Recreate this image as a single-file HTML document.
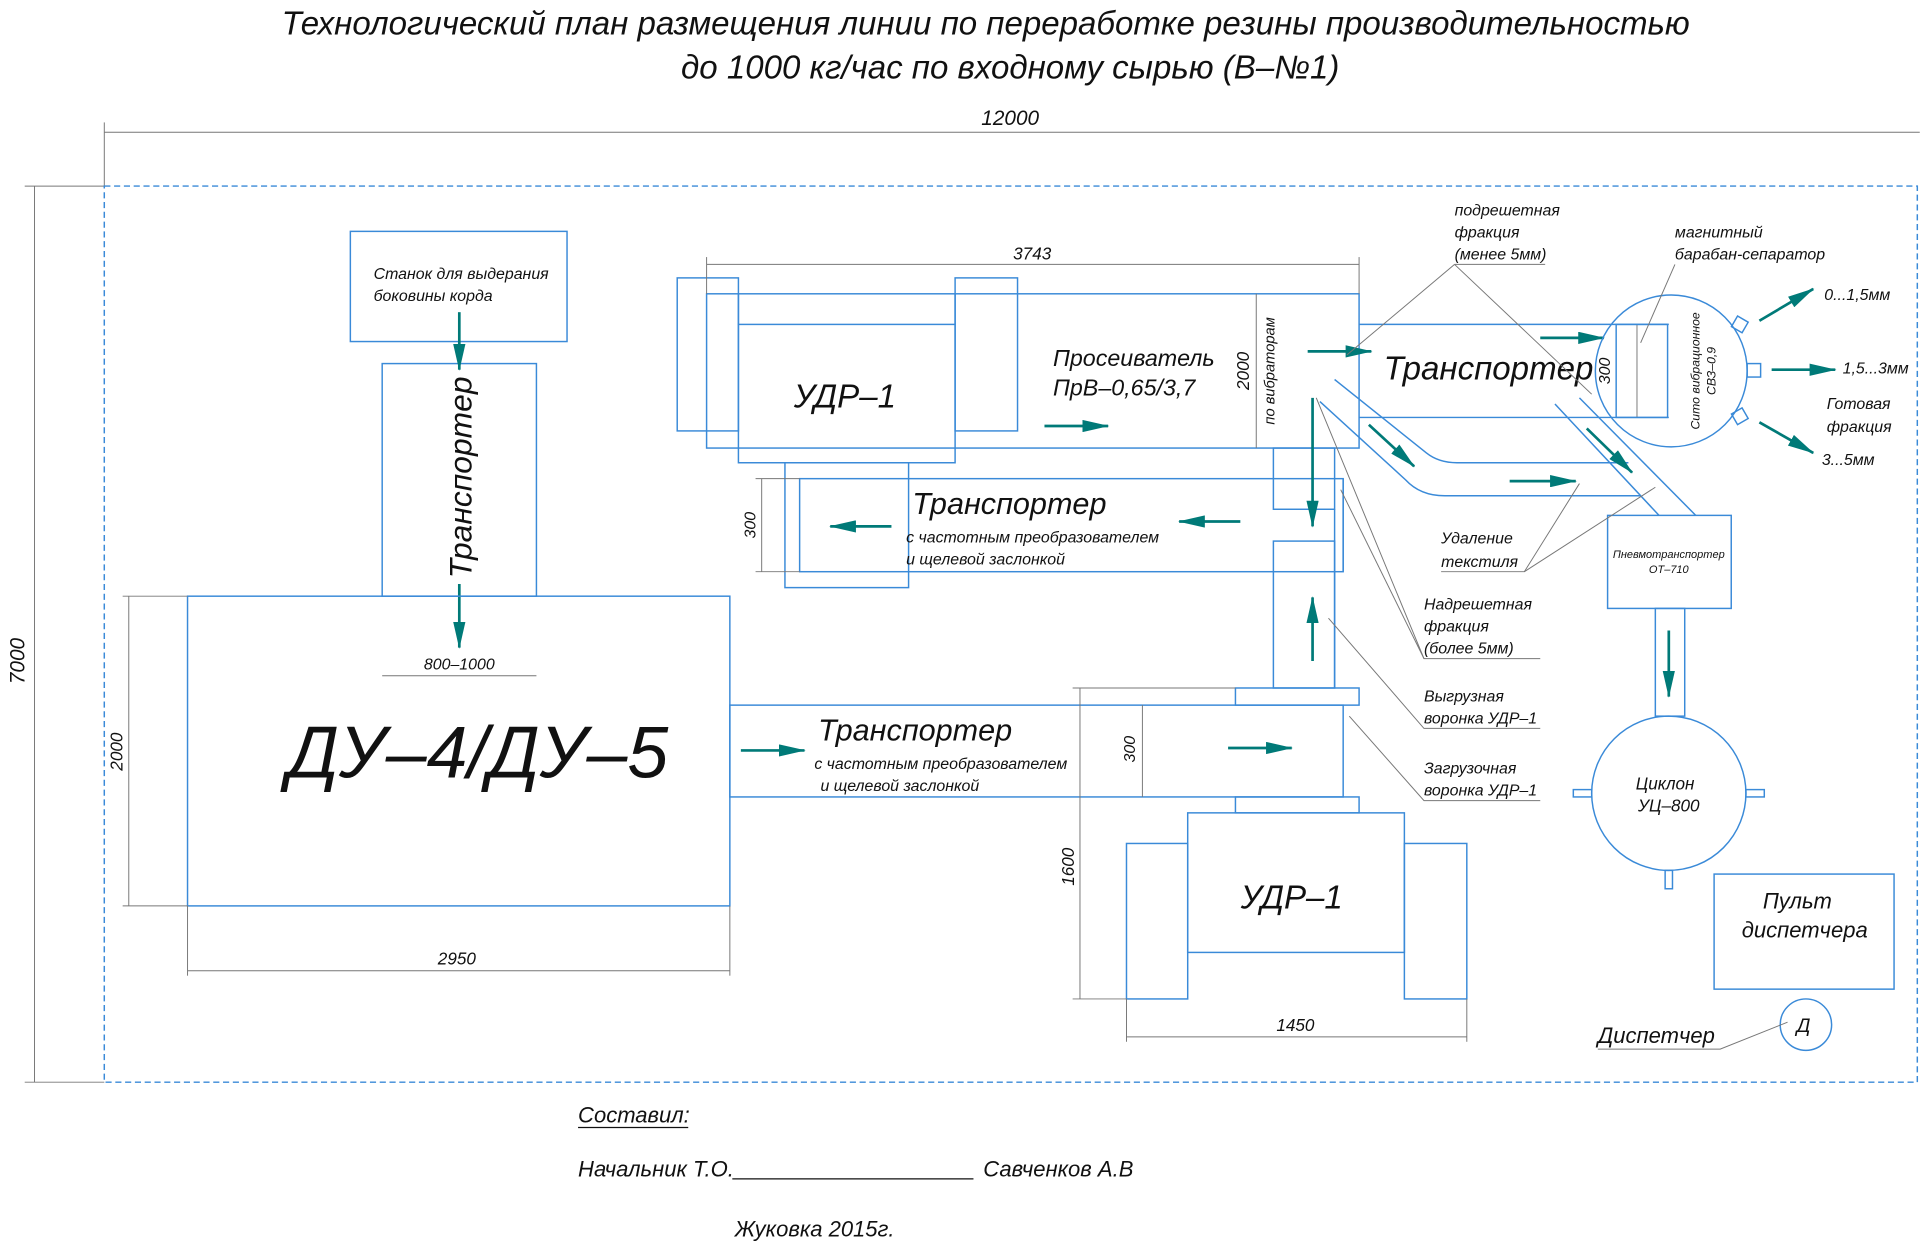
<!DOCTYPE html>
<html><head><meta charset="utf-8"><style>
html,body{margin:0;padding:0;background:#fff;}
svg{display:block}
text{font-family:"Liberation Sans",sans-serif;font-style:italic;fill:#111}
.b{fill:none;stroke:#3a8ad8;stroke-width:1.2}
.d{fill:none;stroke:#777;stroke-width:0.8}
.a{stroke:#007a78;stroke-width:2.2;fill:none}
.ah{fill:#007a78}
</style></head><body>
<svg width="1920" height="1245" viewBox="0 0 1568 1017" xmlns="http://www.w3.org/2000/svg">
<defs><marker id="m" markerWidth="10" markerHeight="8" refX="9" refY="4" orient="auto" markerUnits="userSpaceOnUse"><path d="M0,0 L10,4 L0,8z" fill="#007a78"/></marker>
<marker id="m2" markerWidth="22" markerHeight="10" refX="21" refY="5" orient="auto" markerUnits="userSpaceOnUse"><path d="M0,0 L22,5 L0,10z" fill="#007a78"/></marker></defs>
<rect width="1568" height="1017" fill="#fff"/>
<text x="805" y="28" font-size="27" text-anchor="middle">Технологический план размещения линии по переработке резины производительностью</text>
<text x="825" y="64" font-size="27" text-anchor="middle">до 1000 кг/час по входному сырью (В–№1)</text>
<!-- dims outer -->
<line class="d" x1="85" y1="108" x2="1568" y2="108"/><line class="d" x1="85" y1="100" x2="85" y2="152"/>
<text x="825" y="102" font-size="17" text-anchor="middle">12000</text>
<line class="d" x1="28" y1="152" x2="28" y2="884"/><line class="d" x1="20" y1="152" x2="85" y2="152"/><line class="d" x1="20" y1="884" x2="85" y2="884"/>
<text transform="translate(20,540) rotate(-90)" font-size="17" text-anchor="middle">7000</text>
<rect class="b" x="85" y="152" width="1481" height="732" stroke-dasharray="5,3"/>
<!-- stanok -->
<rect class="b" x="286" y="189" width="177" height="90"/>
<text x="305" y="228" font-size="13">Станок для выдерания</text>
<text x="305" y="246" font-size="13">боковины корда</text>
<rect class="b" x="312" y="297" width="126" height="190"/>
<text transform="translate(385,390) rotate(-90)" font-size="26" text-anchor="middle">Транспортер</text>
<line class="a" x1="375" y1="255" x2="375" y2="302" marker-end="url(#m2)"/>
<line class="a" x1="375" y1="477" x2="375" y2="529" marker-end="url(#m2)"/>
<line class="d" x1="312" y1="552" x2="438" y2="552"/>
<text x="375" y="547" font-size="13" text-anchor="middle">800–1000</text>
<!-- DU -->
<rect class="b" x="153" y="487" width="443" height="253"/>
<text x="390" y="635" font-size="60" text-anchor="middle">ДУ–4/ДУ–5</text>
<line class="d" x1="105" y1="487" x2="105" y2="740"/><line class="d" x1="100" y1="487" x2="153" y2="487"/><line class="d" x1="100" y1="740" x2="153" y2="740"/>
<text transform="translate(100,614) rotate(-90)" font-size="14" text-anchor="middle">2000</text>
<line class="d" x1="153" y1="793" x2="596" y2="793"/><line class="d" x1="153" y1="740" x2="153" y2="797"/><line class="d" x1="596" y1="740" x2="596" y2="797"/>
<text x="373" y="788" font-size="14" text-anchor="middle">2950</text>
<!-- upper UDR + sieve -->
<rect class="b" x="577" y="240" width="533" height="126"/>
<rect class="b" x="553" y="227" width="50" height="125"/>
<rect class="b" x="780" y="227" width="51" height="125"/>
<rect class="b" x="603" y="265" width="177" height="113" fill="#fff"/>
<line class="b" x1="603" y1="240" x2="603" y2="265"/><line class="b" x1="780" y1="240" x2="780" y2="265"/>
<text x="690" y="333" font-size="27" text-anchor="middle">УДР–1</text>
<line class="d" x1="577" y1="216" x2="1110" y2="216"/><line class="d" x1="577" y1="210" x2="577" y2="240"/><line class="d" x1="1110" y1="210" x2="1110" y2="240"/>
<text x="843" y="212" font-size="14" text-anchor="middle">3743</text>
<text x="860" y="299" font-size="19">Просеиватель</text>
<text x="860" y="323" font-size="19">ПрВ–0,65/3,7</text>
<line class="d" x1="1026" y1="240" x2="1026" y2="366"/>
<text transform="translate(1020,303) rotate(-90)" font-size="14" text-anchor="middle">2000</text>
<text transform="translate(1041,303) rotate(-90)" font-size="12" text-anchor="middle">по вибраторам</text>
<line class="a" x1="853" y1="348" x2="905" y2="348" marker-end="url(#m2)"/>
<!-- middle transporter -->
<rect class="b" x="641" y="378" width="101" height="102"/>
<rect class="b" x="653" y="391" width="444" height="76" fill="#fff"/>
<text x="745" y="420" font-size="25">Транспортер</text>
<text x="740" y="443" font-size="13">с частотным преобразователем</text>
<text x="740" y="461" font-size="13">и щелевой заслонкой</text>
<line class="a" x1="1013" y1="426" x2="963" y2="426" marker-end="url(#m2)"/>
<line class="a" x1="728" y1="430" x2="678" y2="430" marker-end="url(#m2)"/>
<line class="d" x1="622" y1="391" x2="622" y2="467"/><line class="d" x1="617" y1="391" x2="653" y2="391"/><line class="d" x1="617" y1="467" x2="653" y2="467"/>
<text transform="translate(617,429) rotate(-90)" font-size="13" text-anchor="middle">300</text>
<rect class="b" x="1040" y="366" width="50" height="50"/>
<rect class="b" x="1040" y="442" width="50" height="120"/>
<line class="a" x1="1072" y1="325" x2="1072" y2="430" marker-end="url(#m2)"/>
<line class="a" x1="1072" y1="540" x2="1072" y2="488" marker-end="url(#m2)"/>
<!-- right transporter -->
<line class="b" x1="1110" y1="265" x2="1363" y2="265"/><line class="b" x1="1110" y1="341" x2="1363" y2="341"/>
<text x="1130" y="310" font-size="27">Транспортер</text>
<line class="d" x1="1337" y1="265" x2="1337" y2="341"/>
<text transform="translate(1315,303) rotate(-90)" font-size="13" text-anchor="middle">300</text>
<line class="a" x1="1068" y1="287" x2="1120" y2="287" marker-end="url(#m2)"/>
<line class="a" x1="1258" y1="276" x2="1310" y2="276" marker-end="url(#m2)"/>
<!-- ducts -->
<path class="b" d="M1078,328 L1148,392 Q1160,405 1180,405 L1340,405"/>
<path class="b" d="M1090,310 L1165,370 Q1175,378 1190,378 L1330,378"/>
<path class="b" d="M1270,330 L1355,421"/><path class="b" d="M1290,325 L1385,421"/>
<line class="a" x1="1118" y1="347" x2="1155" y2="381" marker-end="url(#m2)"/>
<line class="a" x1="1296" y1="350" x2="1333" y2="386" marker-end="url(#m2)"/>
<line class="a" x1="1233" y1="393" x2="1287" y2="393" marker-end="url(#m2)"/>
<!-- sieve -->
<circle class="b" cx="1365" cy="303" r="62" fill="#fff"/>
<rect class="b" x="1320" y="265" width="42" height="76"/>
<rect class="b" x="1416" y="260" width="10" height="10" transform="rotate(30 1421 265)"/>
<rect class="b" x="1427" y="297" width="11" height="11"/>
<rect class="b" x="1416" y="335" width="10" height="10" transform="rotate(-30 1421 340)"/>
<text transform="translate(1388,303) rotate(-90)" font-size="10" text-anchor="middle">Сито вибрационное</text>
<text transform="translate(1401,303) rotate(-90)" font-size="10" text-anchor="middle">СВЗ–0,9</text>
<line class="a" x1="1437" y1="262" x2="1481" y2="236" marker-end="url(#m2)"/>
<line class="a" x1="1447" y1="302" x2="1499" y2="302" marker-end="url(#m2)"/>
<line class="a" x1="1437" y1="345" x2="1481" y2="370" marker-end="url(#m2)"/>
<text x="1490" y="245" font-size="13">0...1,5мм</text>
<text x="1505" y="305" font-size="13">1,5...3мм</text>
<text x="1492" y="334" font-size="13">Готовая</text>
<text x="1492" y="353" font-size="13">фракция</text>
<text x="1488" y="380" font-size="13">3...5мм</text>
<!-- pneumo -->
<rect class="b" x="1313" y="421" width="101" height="76"/>
<text x="1363" y="456" font-size="9" text-anchor="middle">Пневмотранспортер</text>
<text x="1363" y="468" font-size="9" text-anchor="middle">ОТ–710</text>
<rect class="b" x="1352" y="497" width="24" height="88"/>
<line class="a" x1="1363" y1="515" x2="1363" y2="569" marker-end="url(#m2)"/>
<circle class="b" cx="1363" cy="648" r="63" fill="#fff"/>
<rect class="b" x="1285" y="645" width="15" height="6"/><rect class="b" x="1426" y="645" width="15" height="6"/><rect class="b" x="1360" y="711" width="6" height="15"/>
<text x="1360" y="645" font-size="14" text-anchor="middle">Циклон</text>
<text x="1363" y="663" font-size="14" text-anchor="middle">УЦ–800</text>
<rect class="b" x="1400" y="714" width="147" height="94"/>
<text x="1468" y="742" font-size="18" text-anchor="middle">Пульт</text>
<text x="1474" y="766" font-size="18" text-anchor="middle">диспетчера</text>
<circle class="b" cx="1475" cy="837" r="21"/>
<text x="1473" y="843" font-size="16" text-anchor="middle">Д</text>
<text x="1305" y="852" font-size="18">Диспетчер</text>
<polyline class="d" points="1305,857 1405,857 1460,835"/>
<!-- lower transporter -->
<rect class="b" x="596" y="576" width="501" height="75"/>
<text x="668" y="605" font-size="25">Транспортер</text>
<text x="665" y="628" font-size="13">с частотным преобразователем</text>
<text x="670" y="646" font-size="13">и щелевой заслонкой</text>
<line class="a" x1="605" y1="613" x2="657" y2="613" marker-end="url(#m2)"/>
<line class="a" x1="1003" y1="611" x2="1055" y2="611" marker-end="url(#m2)"/>
<line class="d" x1="933" y1="576" x2="933" y2="651"/>
<text transform="translate(927,612) rotate(-90)" font-size="13" text-anchor="middle">300</text>
<rect class="b" x="1009" y="562" width="101" height="14"/>
<rect class="b" x="1009" y="651" width="101" height="13"/>
<line class="b" x1="1090" y1="416" x2="1090" y2="562"/><line class="b" x1="1097" y1="391" x2="1097" y2="467"/>
<!-- lower UDR -->
<rect class="b" x="970" y="664" width="177" height="114"/>
<rect class="b" x="920" y="689" width="50" height="127"/>
<rect class="b" x="1147" y="689" width="51" height="127"/>
<text x="1055" y="742" font-size="27" text-anchor="middle">УДР–1</text>
<line class="d" x1="882" y1="562" x2="882" y2="816"/><line class="d" x1="876" y1="562" x2="1009" y2="562"/><line class="d" x1="876" y1="816" x2="920" y2="816"/>
<text transform="translate(877,708) rotate(-90)" font-size="14" text-anchor="middle">1600</text>
<line class="d" x1="920" y1="847" x2="1198" y2="847"/><line class="d" x1="920" y1="816" x2="920" y2="851"/><line class="d" x1="1198" y1="816" x2="1198" y2="851"/>
<text x="1058" y="842" font-size="14" text-anchor="middle">1450</text>
<!-- labels right -->
<text x="1188" y="176" font-size="13">подрешетная</text>
<text x="1188" y="194" font-size="13">фракция</text>
<text x="1188" y="212" font-size="13">(менее 5мм)</text>
<line class="d" x1="1188" y1="216" x2="1262" y2="216"/>
<polyline class="d" points="1188,216 1100,290"/><polyline class="d" points="1188,216 1300,322"/>
<text x="1368" y="194" font-size="13">магнитный</text>
<text x="1368" y="212" font-size="13">барабан-сепаратор</text>
<line class="d" x1="1368" y1="216" x2="1340" y2="280"/>
<text x="1177" y="444" font-size="13">Удаление</text>
<text x="1177" y="463" font-size="13">текстиля</text>
<polyline class="d" points="1177,467 1245,467 1290,395"/><line class="d" x1="1245" y1="467" x2="1352" y2="398"/>
<text x="1163" y="498" font-size="13">Надрешетная</text>
<text x="1163" y="516" font-size="13">фракция</text>
<text x="1163" y="534" font-size="13">(более 5мм)</text>
<polyline class="d" points="1258,538 1163,538 1075,325"/><line class="d" x1="1163" y1="538" x2="1095" y2="400"/>
<text x="1163" y="573" font-size="13">Выгрузная</text>
<text x="1163" y="591" font-size="13">воронка УДР–1</text>
<polyline class="d" points="1258,595 1163,595 1085,505"/>
<text x="1163" y="632" font-size="13">Загрузочная</text>
<text x="1163" y="650" font-size="13">воронка УДР–1</text>
<polyline class="d" points="1258,654 1163,654 1102,585"/>
<!-- footer -->
<text x="472" y="917" font-size="18">Составил:</text>
<line x1="472" y1="921" x2="562" y2="921" stroke="#111" stroke-width="1"/>
<text x="472" y="961" font-size="18">Начальник Т.О.</text>
<line x1="598" y1="963" x2="795" y2="963" stroke="#111" stroke-width="1"/>
<text x="803" y="961" font-size="18">Савченков А.В</text>
<text x="600" y="1010" font-size="18">Жуковка 2015г.</text>
</svg>
</body></html>
